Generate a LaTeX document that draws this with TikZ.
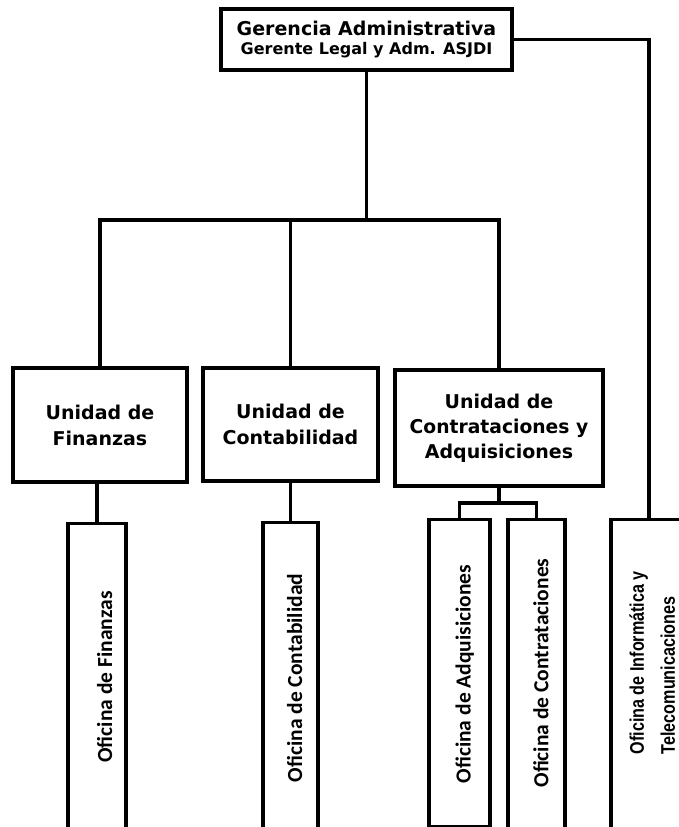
\documentclass[tikz,border=0pt]{standalone}
\usepackage{fontspec}
\usepackage{graphicx}
\newfontfamily\dvs{DejaVu Sans}
\newfontfamily\carl{Carlito}
\newfontfamily\libs{Liberation Sans}
\begin{document}
\begin{tikzpicture}[x=1pt,y=-1pt,
  conn/.style={line width=3.2pt},
  ubox/.style={draw, line width=3.2pt, rectangle, inner sep=0pt, align=center,
    font=\dvs\bfseries\fontsize{19}{26}\selectfont},
  obox/.style={draw, line width=3.2pt, rectangle, inner sep=0pt, anchor=north},
  vtext/.style={rotate=90, inner sep=0pt, font=\carl\bfseries\fontsize{21.5}{22}\selectfont}]
\useasboundingbox[fill=white] (0,0) rectangle (679,827);
% top box
\node[ubox, minimum width=291pt, minimum height=61pt,
  font=\dvs\bfseries\fontsize{16}{19}\selectfont] (top) at (366.5,39.5)
  {{\fontsize{19}{19}\selectfont Gerencia Administrativa}\\Gerente Legal y Adm. ASJDI};
% unit boxes
\node[ubox, minimum width=174pt, minimum height=114pt] (u1) at (100,425) {Unidad de\\Finanzas};
\node[ubox, minimum width=175pt, minimum height=113pt] (u2) at (290.5,424.5) {Unidad de\\Contabilidad};
\node[ubox, minimum width=208pt, minimum height=116pt, font=\dvs\bfseries\fontsize{19}{25}\selectfont] (u3) at (499,428)
  {Unidad de\\\scalebox{0.985}[1]{Contrataciones y}\\Adquisiciones};
% office boxes
\node[obox, minimum width=58pt, minimum height=330pt] (of1) at (97,522) {};
\node[obox, minimum width=55pt, minimum height=330pt] (of2) at (290.5,521) {};
\node[obox, minimum width=61pt, minimum height=307pt] (adq) at (459.5,518) {};
\node[obox, minimum width=57pt, minimum height=330pt] (con) at (536.5,518) {};
\node[obox, minimum width=76pt, minimum height=330pt] (info) at (649,518) {};
% office texts
\node[vtext, anchor=base] (t1) at (112,677) {Oficina de Finanzas};
\node[vtext, anchor=base] (t2) at (302,678) {Oficina de Contabilidad};
\node[vtext, anchor=base] (t3) at (470.7,674) {Oficina de Adquisiciones};
\node[vtext, anchor=base] (t4) at (548.3,673) {Oficina de Contrataciones};
\node[vtext, anchor=west, align=left, font=\libs\bfseries\fontsize{19.7}{31}\selectfont] (t5) at (652.3,754.5)
  {\scalebox{0.82}[1]{Oficina de Informática y}\\\scalebox{0.82}[1]{Telecomunicaciones}};
% connectors
\coordinate (bus) at (366.5,220);
\coordinate (cb) at (499,503);
\draw[conn] (top.south) -- (bus);
\draw[conn] (u1.north) |- (bus) -| (u3.north);
\draw[conn] (u2.north) -- (u2.north |- bus);
\draw[conn] (top.east) -| (info.north);
\draw[conn] (of1.north) -- (of1.north |- u1.south);
\draw[conn] (of2.north) -- (of2.north |- u2.south);
\draw[conn] (u3.south) -- (cb);
\draw[conn] (adq.north) |- (cb) -| (con.north);
\end{tikzpicture}
\end{document}
